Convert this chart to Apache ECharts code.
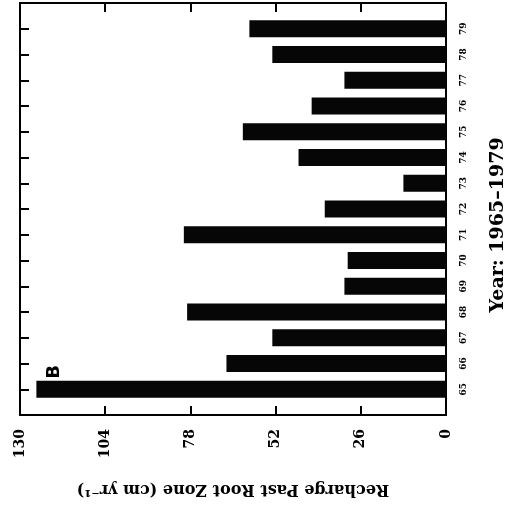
<!DOCTYPE html>
<html>
<head>
<meta charset="utf-8">
<script src="https://cdn.jsdelivr.net/npm/echarts@6/dist/echarts.min.js"></script>
<style>
  html, body { margin: 0; padding: 0; background: #fff; }
  #chart { width: 507px; height: 508px; }
</style>
</head>
<body>
<div id="chart"></div>
<script>
// years 65-79, padded with an empty slot on each side (64, 80) like the original
const years = ['64', '65', '66', '67', '68', '69', '70', '71', '72', '73', '74', '75', '76', '77', '78', '79', '80'];
const recharge = [null, 125, 67, 53, 79, 31, 30, 80, 37, 13, 45, 62, 41, 31, 53, 60, null];
const valueTicks = [0, 26, 52, 78, 104, 130];

const serif = '"DejaVu Serif", "Liberation Serif", serif';
const tick = { show: true, inside: true, length: 9, lineStyle: { color: '#000', width: 2 } };

const chart = echarts.init(document.getElementById('chart'));

chart.setOption({
  animation: false,
  backgroundColor: '#fff',
  grid: { left: 20, right: 61, top: 3, bottom: 93, containLabel: false, outerBoundsMode: 'none' },
  xAxis: [
    {
      type: 'value',
      position: 'bottom',
      inverse: true,
      min: valueTicks[0],
      max: valueTicks[valueTicks.length - 1],
      interval: 26,
      name: 'Recharge Past Root Zone (cm yr\u207B\u00B9)',
      nameLocation: 'middle',
      nameRotate: 180,
      nameGap: 66,
      nameTextStyle: { color: '#000', fontFamily: serif, fontWeight: 'bold', fontSize: 16 },
      axisLine: { show: true, onZero: false, lineStyle: { color: '#000', width: 2 } },
      axisTick: tick,
      axisLabel: { rotate: 90, margin: 14, color: '#000', fontFamily: serif, fontWeight: 'bold', fontSize: 14 },
      splitLine: { show: false }
    },
    {
      type: 'value',
      position: 'top',
      inverse: true,
      min: 0,
      max: 130,
      interval: 26,
      axisLine: { show: true, onZero: false, lineStyle: { color: '#000', width: 2 } },
      axisTick: tick,
      axisLabel: { show: false },
      splitLine: { show: false }
    }
  ],
  yAxis: [
    {
      type: 'category',
      position: 'right',
      data: years,
      boundaryGap: false,
      name: 'Year: 1965\u20131979',
      nameLocation: 'middle',
      nameRotate: 90,
      nameGap: 43,
      nameTextStyle: { color: '#000', fontFamily: serif, fontWeight: 'bold', fontSize: 19, padding: [0, 32, 0, 0] },
      axisLine: { show: true, onZero: false, lineStyle: { color: '#000', width: 2 } },
      axisTick: Object.assign({ interval: 0 }, tick),
      axisLabel: {
        rotate: 90,
        margin: 13,
        interval: 0,
        color: '#000',
        fontFamily: serif,
        fontWeight: 'bold',
        fontSize: 9,
        formatter: (v, i) => (i === 0 || i === years.length - 1 ? '' : v)
      }
    },
    {
      type: 'category',
      position: 'left',
      data: years,
      boundaryGap: false,
      axisLine: { show: true, onZero: false, lineStyle: { color: '#000', width: 2 } },
      axisTick: Object.assign({ interval: 0 }, tick),
      axisLabel: { show: false }
    }
  ],
  series: [
    {
      type: 'bar',
      xAxisIndex: 0,
      yAxisIndex: 0,
      data: recharge,
      barWidth: 17,
      itemStyle: { color: '#060606' }
    }
  ],
  graphic: [
    {
      type: 'text',
      x: 54,
      y: 372,
      rotation: Math.PI / 2,
      style: {
        text: 'B',
        fill: '#000',
        font: 'bold 18px "DejaVu Sans", sans-serif',
        align: 'center',
        verticalAlign: 'middle'
      }
    }
  ]
});
</script>
</body>
</html>
